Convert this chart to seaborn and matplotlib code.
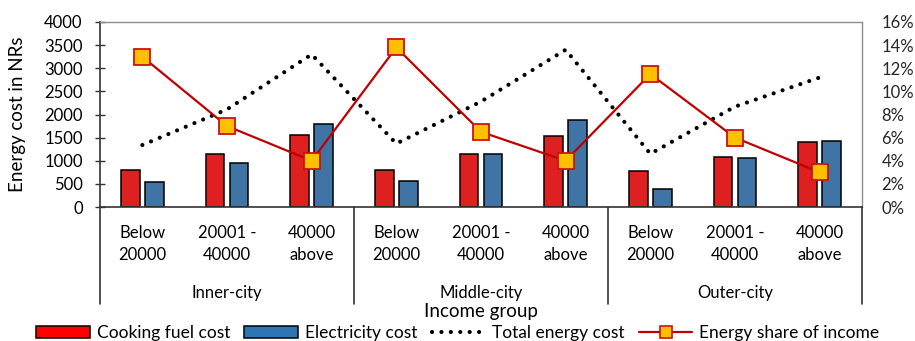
import matplotlib
matplotlib.use("Agg")
import matplotlib.pyplot as plt
from matplotlib.patches import Patch
from matplotlib.lines import Line2D
import seaborn as sns
import pandas as pd
import numpy as np

# ---- data ----
zones = ["Inner-city", "Middle-city", "Outer-city"]
income_groups = ["Below\n20000", "20001 -\n40000", "40000\nabove"]
cooking_fuel = [800, 1150, 1550, 810, 1140, 1530, 770, 1090, 1400]
electricity = [530, 960, 1790, 560, 1145, 1890, 380, 1070, 1430]
total_energy = [1340, 2110, 3300, 1370, 2280, 3400, 1150, 2170, 2800]
energy_share = [13.0, 7.0, 4.0, 13.8, 6.5, 4.0, 11.5, 6.0, 3.0]
left_ticks = [0, 500, 1000, 1500, 2000, 2500, 3000, 3500, 4000]
right_ticks = [0, 2, 4, 6, 8, 10, 12, 14, 16]

sns.set_theme(style="white")
plt.rcParams["font.family"] = ["Lato", "DejaVu Sans"]
plt.rcParams["text.color"] = "black"

FS = 12

cats = [f"{z}|{g}" for z in zones for g in income_groups]
bars = pd.DataFrame({
    "cat": cats * 2,
    "value": cooking_fuel + electricity,
    "series": ["Cooking fuel cost"] * 9 + ["Electricity cost"] * 9,
})
pos = np.arange(len(cats))
lines = pd.DataFrame({"pos": pos, "total": total_energy, "share": energy_share})

fig = plt.figure(figsize=(9.15, 3.41), dpi=100)
ax = fig.add_axes([100 / 915, 1 - 207 / 341, 762 / 915, 185 / 341])

red, blue = "#FF0000", "#2E75B6"
DOTS = (0, (0.01, 2.25))
sns.barplot(data=bars, x="cat", y="value", hue="series", order=cats,
            hue_order=["Cooking fuel cost", "Electricity cost"],
            palette=[red, blue], width=0.567, gap=0.21,
            edgecolor="black", linewidth=1.1, ax=ax, legend=False, zorder=2)

sns.lineplot(data=lines, x="pos", y="total", ax=ax, color="black",
             linewidth=3.0, linestyle=DOTS,
             dash_capstyle="round", zorder=3)

ax.set_xlim(-0.5, 8.5)
ax.set_ylim(0, 4000)
ax.set_yticks(left_ticks)
ax.set_xticks([])
ax.set_xlabel("")
ax.set_ylabel("")
ax.tick_params(axis="y", which="both", direction="inout", length=7,
               width=1, color="#333333", pad=9, labelsize=FS, left=True)
for t in ax.get_yticklabels():
    t.set_color("black")

for s in ["left", "bottom"]:
    ax.spines[s].set_color("#333333")
    ax.spines[s].set_linewidth(1.2)
for s in ["top", "right"]:
    ax.spines[s].set_color("#8C8C8C")
    ax.spines[s].set_linewidth(1.0)

# secondary axis for the income share
ax2 = ax.twinx()
sns.lineplot(data=lines, x="pos", y="share", ax=ax2, color="#C00000",
             linewidth=1.6, marker="s", markersize=12,
             markerfacecolor="#FFC000", markeredgecolor="#D01010",
             markeredgewidth=1.3, zorder=4)
ax2.set_ylim(0, 16)
ax2.set_yticks(right_ticks)
ax2.set_yticklabels([f"{v}%" for v in right_ticks])
ax2.set_ylabel("")
ax2.tick_params(axis="y", length=0, pad=14, labelsize=FS)
for s in ["top", "right", "left", "bottom"]:
    ax2.spines[s].set_visible(False)

# multi-level category axis
trans = ax.get_xaxis_transform()
for i, c in enumerate(cats):
    ax.text(i, -0.2, income_groups[i % 3], transform=trans, ha="center",
            va="center", fontsize=FS, linespacing=1.45)
for j, z in enumerate(zones):
    ax.text(3 * j + 1, -0.465, z, transform=trans, ha="center",
            va="center", fontsize=FS)
for xb in [-0.5, 2.5, 5.5, 8.5]:
    ax.plot([xb, xb], [0, -0.525], transform=trans, color="#333333",
            linewidth=1.2, clip_on=False, zorder=5)

fig.text(481 / 915, 1 - 311 / 341, "Income group", ha="center",
         va="center", fontsize=13.5)
fig.text(18 / 915, 1 - 114.5 / 341, "Energy cost in NRs", rotation=90,
         ha="center", va="center", fontsize=13.5)

handles = [
    Patch(facecolor=red, edgecolor="black", linewidth=1.1),
    Patch(facecolor=blue, edgecolor="black", linewidth=1.1),
    Line2D([], [], color="black", linewidth=3.0, linestyle=DOTS,
           dash_capstyle="round"),
    Line2D([], [], color="#C00000", linewidth=1.6, marker="s",
           markersize=9, markerfacecolor="#FFC000",
           markeredgecolor="#D01010", markeredgewidth=1.2),
]
labels = ["Cooking fuel cost", "Electricity cost", "Total energy cost",
          "Energy share of income"]
fig.legend(handles, labels, loc="center", ncol=4, frameon=False,
           bbox_to_anchor=(458 / 915, 1 - 333 / 341), fontsize=12.5,
           handlelength=3.1, handleheight=0.75, handletextpad=0.4,
           columnspacing=0.8, borderpad=0, borderaxespad=0)

fig.savefig("out.png", dpi=100)
